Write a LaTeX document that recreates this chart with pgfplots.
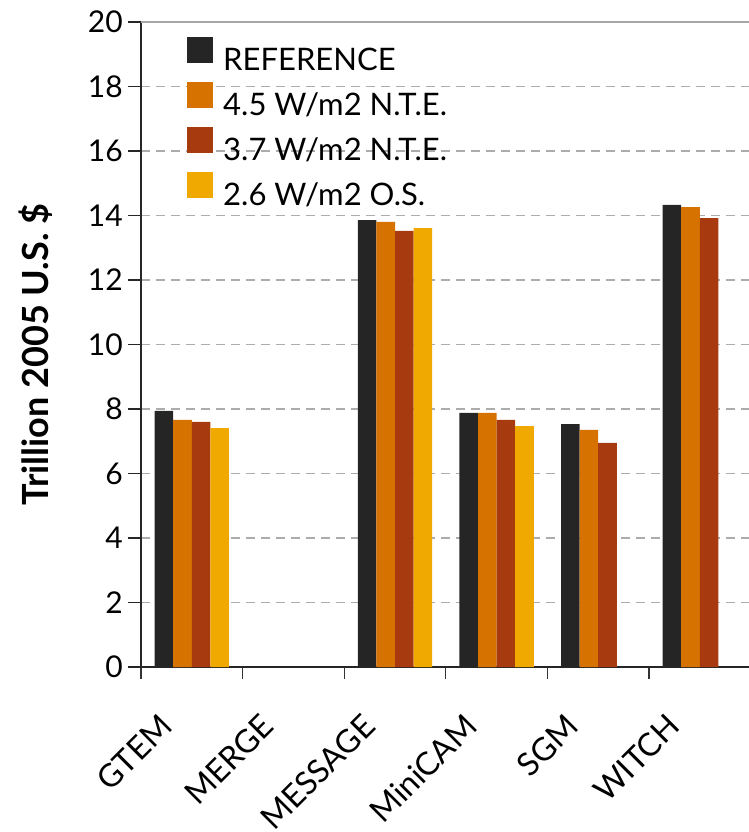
\documentclass[border=0pt]{standalone}
\usepackage{pgfplots}
\pgfplotsset{compat=1.18}
\usepackage{fontspec}
\setmainfont{Lato}
\definecolor{cref}{HTML}{252525}
\definecolor{cff}{HTML}{D67300}
\definecolor{cft}{HTML}{A83A10}
\definecolor{ctw}{HTML}{F0A900}
\begin{document}
\begin{tikzpicture}
\path[use as bounding box] (-141pt,-165pt) rectangle (607pt,667pt);
\begin{axis}[
  at={(0pt,0pt)}, anchor=south west,
  scale only axis, width=609.6pt, height=645pt,
  ybar=0pt, bar width=18.6pt,
  xmin=-0.5, xmax=5.5, ymin=0, ymax=20,
  axis x line*=bottom, axis y line*=left,
  axis line style={black!85, line width=1.4pt},
  xtick={0,...,5},
  xticklabels={GTEM,MERGE,MESSAGE,MiniCAM,SGM,WITCH},
  major x tick style={draw=none},
  minor xtick={-0.5,0.5,...,5.5},
  minor x tick style={black!80, line width=1.2pt},
  minor tick length=12pt,
  ytick={0,2,...,18},
  extra y ticks={20},
  extra y tick style={grid=major, major grid style={solid, draw=gray!70, line width=1.6pt}},
  major y tick style={black!85, line width=1.2pt},
  major tick length=13pt,
  tick align=outside,
  ymajorgrids,
  major grid style={dash pattern=on 9pt off 6pt, draw=gray!65, line width=1.2pt},
  /pgf/number format/assume math mode=true,
  yticklabel style={font=\fontsize{30}{30}\selectfont, inner sep=0pt, xshift=-5pt},
  xticklabel style={font=\fontsize{32}{32}\selectfont, inner sep=0pt, xshift=-34pt, yshift=-32pt, rotate=45, anchor=north east},
  ylabel={\bfseries Trillion 2005 U.S. \$},
  every axis y label/.style={at={(axis description cs:-0.172,0.484)}, rotate=90, anchor=center, font=\fontsize{36}{36}\selectfont},
  legend image code/.code={\fill[#1] (0pt,-2pt) rectangle (26pt,24pt);},
  legend cell align=left,
  legend style={at={(axis description cs:0.0755,0.977)}, anchor=north west, draw=none, fill=none,
    font=\fontsize{31}{31}\selectfont, inner sep=0pt, row sep=8pt,
    nodes={inner sep=0pt, text height=22pt, text depth=4pt},
    /tikz/every odd column/.append style={column sep=10pt}},
]
\addplot[fill=cref, draw=none] coordinates {(0,7.94) (2,13.86) (3,7.88) (4,7.53) (5,14.33)};
\addplot[fill=cff, draw=none] coordinates {(0,7.66) (2,13.80) (3,7.88) (4,7.35) (5,14.26)};
\addplot[fill=cft, draw=none] coordinates {(0,7.60) (2,13.52) (3,7.66) (4,6.95) (5,13.92)};
\addplot[fill=ctw, draw=none] coordinates {(0,7.41) (2,13.61) (3,7.47)};
\legend{REFERENCE, 4.5 W/m2 N.T.E., 3.7 W/m2 N.T.E., 2.6 W/m2 O.S.}
\end{axis}
\end{tikzpicture}
\end{document}
